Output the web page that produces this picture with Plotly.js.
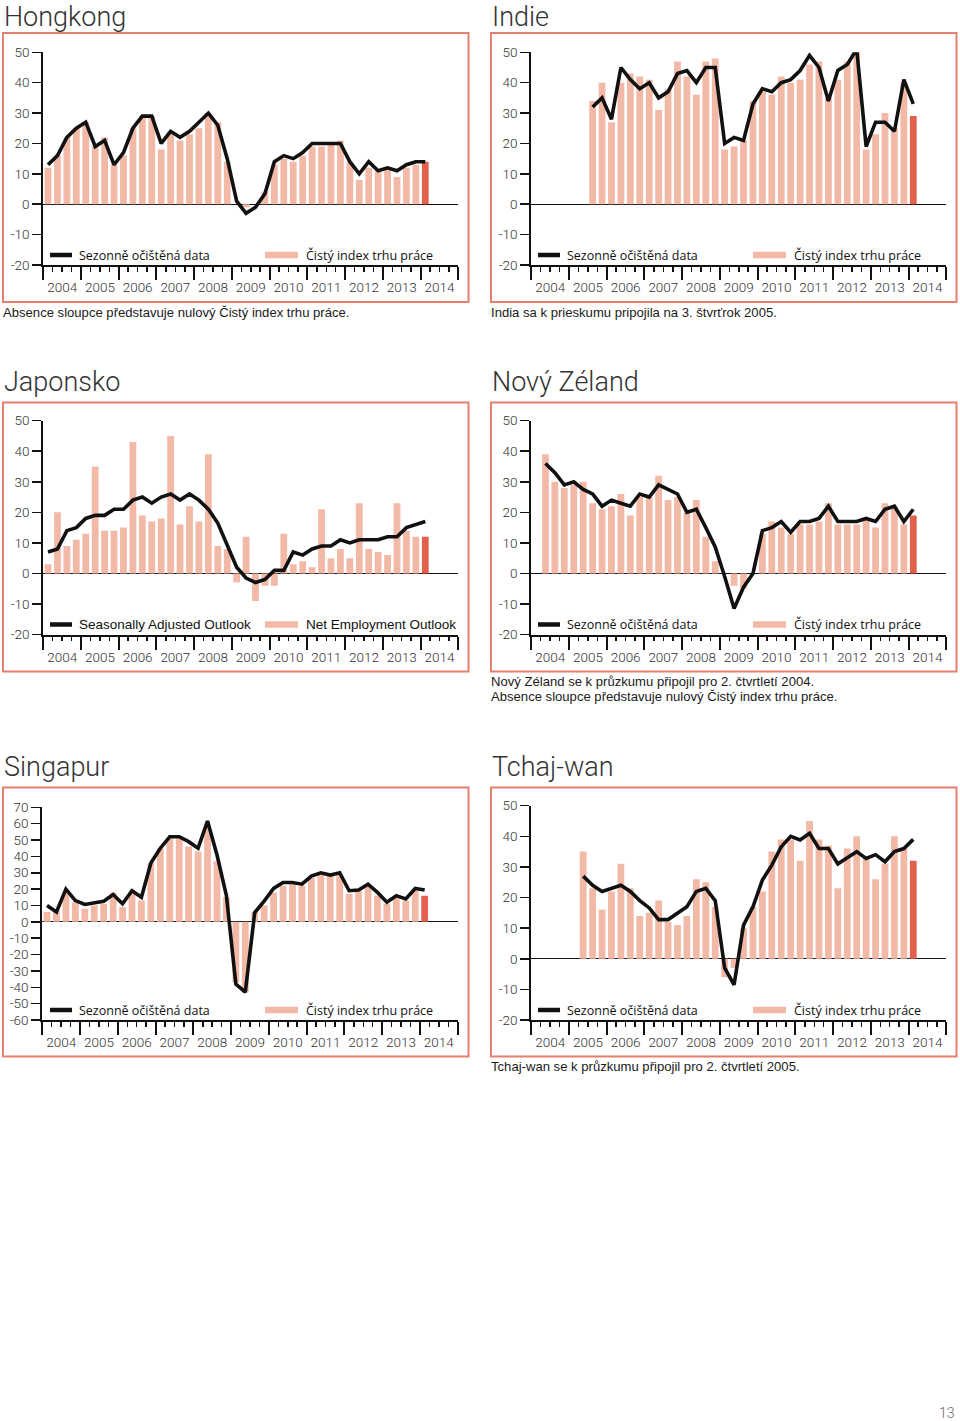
<!DOCTYPE html>
<html>
<head>
<meta charset="utf-8">
<script src="https://cdn.plot.ly/plotly-3.0.1.min.js"></script>
<style>html,body{margin:0;padding:0;background:#fff;}#chart{width:960px;height:1421px;}</style>
</head>
<body>
<div id="chart"></div>
<script>
// ---------- DATA (quarterly, 2004 Q1 ... 2014 Q1) ----------
const years = ['2004','2005','2006','2007','2008','2009','2010','2011','2012','2013','2014'];

const hk_neo = [12,16,22,25,27,19,22,13,16,25,29,29,18,24,21,23,25,30,27,14,0,-1,0,4,13,15,14,16,19,19,20,21,14,8,12,11,12,9,12,13,14];
const hk_sa  = [13,16,22,25,27,19,21,13,17,25,29,29,20,24,22,24,27,30,26,15,1,-3,-1,3.5,14,16,15,17,20,20,20,20,14,10,14,11,12,11,13,14,14];

const in_neo = [null,null,null,null,null,null,34,40,27,40,43,42,41,31,38,47,42,36,47,48,18,19,21,34,37,36,42,40,41,46,47,35,41,47,53,18,23,30,25,40,29];
const in_sa  = [null,null,null,null,null,null,32,35,28,45,41,38,40,35,37,43,44,40,45,45,20,22,21,33,38,37,40,41,44,49,45,34,44,46,51,19,27,27,24,41,33];

const jp_neo = [3,20,9,11,13,35,14,14,15,43,19,17,18,45,16,22,17,39,9,8,-3,12,-9,-4,-4,13,3,4,2,21,5,8,5,23,8,7,6,23,14,12,12];
const jp_sa  = [7,8,14,15,18,19,19,21,21,24,25,23,25,26,24,26,24,21,16.5,9,2,-1.5,-3,-2,1,1,7,6,8,9,9,11,10,11,11,11,12,12,15,16,17];

const nz_neo = [null,39,30,28,29,30,23,21,22,26,19,25,25,32,24,25,20,24,12,4,0,-4,-5,0,13,17,15,13,16,16,17,23,16,16,16,18,15,23,22,16,19];
const nz_sa  = [null,36,33,29,30,27.5,26,22,24,23,22,26,25,29,27.5,26,20,21,15,8.7,-1,-11.5,-4.5,0,14,15,17,13.5,17,17,18,22,17,17,17,18,17,21,22,17,21];

const sg_neo = [6,7,18,12,8,10,11,18,9,17,13,36,45,51,51,46,43,59,37,15,-37,-43,6,10,18,22,24,22,27,29,28,29,17,19,22,16,11,15,13,19,16];
const sg_sa  = [10,6,20,13,10.6,11.6,12.6,16.7,11,19,15,36,45,52,52,49,45,61.6,41,16,-38,-43,5.7,12.7,20.4,24,24,23,28,30,28.6,30,19,19.4,23,18,12,16,14,20.4,19.4];

const tw_neo = [null,null,null,null,null,35,23,16,22,31,23,14,15,19,12,11,14,26,25,17,-6,-3,10,17,22,35,39,39,32,45,39,37,23,36,40,33,26,31,40,36,32];
const tw_sa  = [null,null,null,null,null,27,24,22,23,24,22,19,16.6,12.8,12.8,15,17,22,23,19,-3,-8.5,11,17,25.7,30.6,36.6,40,38.8,41,36,36,31,33,35,32.8,34,31.7,35,36,39];

const legendCZ = ['Sezonně očištěná data','Čistý index trhu práce'];
const legendEN = ['Seasonally Adjusted Outlook','Net Employment Outlook'];

// ---------- LAYOUT HELPERS ----------
const W = 960, H = 1421;
const PX = x => x / W;
const PY = y => 1 - y / H;

const BAR_LIGHT = '#f3b9a7';
const BAR_DARK = '#e2604d';
const BORDER = '#e3806f';
const INK = '#111111';
const TXT = '#333333';

const panels = [
  {title:'Hongkong', neo:hk_neo, sa:hk_sa, leg:legendCZ, col:0, x0:43.3, x1:458.3, yT:52.3, yB:265, range:[-20,50], top:33, bot:302, titleY:0, titleAnchor:'top',
   notes:['Absence sloupce představuje nulový Čistý index trhu práce.'], noteY:312},
  {title:'Indie', neo:in_neo, sa:in_sa, leg:legendCZ, col:1, x0:531.3, x1:946.3, yT:52.3, yB:265, range:[-20,50], top:33, bot:302, titleY:0, titleAnchor:'top',
   notes:['India sa k prieskumu pripojila na 3. štvrťrok 2005.'], noteY:312},
  {title:'Japonsko', neo:jp_neo, sa:jp_sa, leg:legendEN, col:0, x0:43.3, x1:458.3, yT:420.7, yB:634.5, range:[-20,50], top:402.5, bot:671.5, titleY:382, titleAnchor:'middle',
   notes:[], noteY:681},
  {title:'Nový Zéland', neo:nz_neo, sa:nz_sa, leg:legendCZ, col:1, x0:531.3, x1:946.3, yT:420.7, yB:634.5, range:[-20,50], top:402.5, bot:671.5, titleY:382, titleAnchor:'middle',
   notes:['Nový Zéland se k průzkumu připojil pro 2. čtvrtletí 2004.','Absence sloupce představuje nulový Čistý index trhu práce.'], noteY:681},
  {title:'Singapur', neo:sg_neo, sa:sg_sa, leg:legendCZ, col:0, x0:42.3, x1:457.7, yT:807.3, yB:1020, range:[-60,70], top:787.5, bot:1056.5, titleY:767, titleAnchor:'middle',
   notes:[], noteY:1066},
  {title:'Tchaj-wan', neo:tw_neo, sa:tw_sa, leg:legendCZ, col:1, x0:531.3, x1:946.3, yT:805.7, yB:1020, range:[-20,50], top:787.5, bot:1056.5, titleY:767, titleAnchor:'middle',
   notes:['Tchaj-wan se k průzkumu připojil pro 2. čtvrtletí 2005.'], noteY:1066}
];

const tickFont = {family:'Roboto, "Liberation Sans", Arial, sans-serif', size:13.5, color:TXT, weight:300};
const legFontCZ = {family:'"Open Sans", "Noto Sans", sans-serif', size:12.5, color:INK};
const legFontEN = {family:'"Liberation Sans", Arial, sans-serif', size:13.5, color:INK};
const noteFont = {family:'"Liberation Sans", Arial, sans-serif', size:13.1, color:'#1a1a1a'};
const titleFont = {family:'Roboto, "Liberation Sans", sans-serif', size:27, color:TXT, weight:300};

const data = [];
const layout = {
  width: W, height: H,
  margin: {l:0, r:0, t:0, b:0},
  paper_bgcolor: '#ffffff',
  plot_bgcolor: 'rgba(0,0,0,0)',
  showlegend: false,
  bargap: 0.26,
  shapes: [],
  annotations: []
};

panels.forEach((p, k) => {
  const n = k + 1;
  const xa = n === 1 ? 'x' : 'x' + n;
  const ya = n === 1 ? 'y' : 'y' + n;
  const xl = 'x' + (6 + n);
  const idx = p.neo.map((_, i) => i);
  const last = p.neo.length - 1;

  data.push({
    type:'bar', x: idx, y: p.neo, xaxis: xa, yaxis: ya,
    marker:{color: idx.map(i => i === last ? BAR_DARK : BAR_LIGHT), line:{width:0}},
    width: 0.72, hoverinfo:'skip'
  });
  data.push({
    type:'scatter', mode:'lines', x: idx, y: p.sa, xaxis: xa, yaxis: ya,
    line:{color:INK, width:3.6, shape:'linear'}, connectgaps:false, hoverinfo:'skip'
  });
  // empty trace for the year-label axis
  data.push({type:'scatter', mode:'markers', x:[null], y:[null], xaxis: xl, yaxis: ya, hoverinfo:'skip'});

  const xr = [-0.5, 4 * years.length - 0.5];
  const majorVals = [];
  for (let j = 0; j <= years.length; j++) majorVals.push(-0.5 + 4 * j);
  const centers = years.map((_, j) => 1.5 + 4 * j);
  const yVals = [];
  for (let v = p.range[0]; v <= p.range[1]; v += 10) yVals.push(v);

  layout['xaxis' + (n === 1 ? '' : n)] = {
    domain: [PX(p.x0), PX(p.x1)], anchor: ya, range: xr,
    tickmode:'array', tickvals: majorVals, showticklabels:false,
    ticks:'outside', ticklen:13, tickwidth:2, tickcolor:INK,
    showline:true, linecolor:INK, linewidth:2,
    showgrid:false, zeroline:false,
    minor:{tickmode:'linear', tick0:-0.5, dtick:1, ticks:'outside', ticklen:4.5, tickwidth:1.5, tickcolor:INK, showgrid:false},
    fixedrange:true
  };
  layout['xaxis' + (6 + n)] = {
    domain: [PX(p.x0), PX(p.x1)], overlaying: xa, anchor: ya, side:'bottom', range: xr,
    tickmode:'array', tickvals: centers, ticktext: years,
    ticks:'outside', ticklen:10, tickcolor:'rgba(0,0,0,0)',
    showline:false, showgrid:false, zeroline:false, tickfont: tickFont, fixedrange:true
  };
  layout['yaxis' + (n === 1 ? '' : n)] = {
    domain: [PY(p.yB), PY(p.yT)], anchor: xa,
    range: p.range,
    tickmode:'array', tickvals: yVals, ticktext: yVals.map(v => String(v)),
    ticks:'outside', ticklen:9, tickwidth:1.5, tickcolor:INK,
    showline:true, linecolor:INK, linewidth:2,
    showgrid:false, zeroline:true, zerolinecolor:INK, zerolinewidth:1.2,
    tickfont: tickFont, fixedrange:true
  };

  const off = p.col === 0 ? 0 : 488;
  // frame
  layout.shapes.push({type:'rect', xref:'paper', yref:'paper', x0:PX(off + 3), x1:PX(off + 468.5), y0:PY(p.bot), y1:PY(p.top),
    line:{color:BORDER, width:2}, fillcolor:'rgba(0,0,0,0)', layer:'below'});
  // legend samples
  const ly = p.yB - 10;
  layout.shapes.push({type:'line', xref:'paper', yref:'paper', x0:PX(off + 50), x1:PX(off + 72), y0:PY(ly), y1:PY(ly),
    line:{color:INK, width:4.5}});
  layout.shapes.push({type:'rect', xref:'paper', yref:'paper', x0:PX(off + 265), x1:PX(off + 298), y0:PY(ly + 3.2), y1:PY(ly - 3.2),
    line:{width:0}, fillcolor:BAR_LIGHT});
  const lf = p.leg === legendEN ? legFontEN : legFontCZ;
  layout.annotations.push({xref:'paper', yref:'paper', x:PX(off + 77), y:PY(ly), xanchor:'left', yanchor:'middle',
    text:p.leg[0], showarrow:false, font:lf});
  layout.annotations.push({xref:'paper', yref:'paper', x:PX(off + 304), y:PY(ly), xanchor:'left', yanchor:'middle',
    text:p.leg[1], showarrow:false, font:lf});
  // title
  layout.annotations.push({xref:'paper', yref:'paper', x:PX(off + 3), y:PY(p.titleY), xanchor:'left', yanchor:p.titleAnchor,
    text:p.title, showarrow:false, font:titleFont, borderpad:0});
  // notes
  p.notes.forEach((t, j) => {
    layout.annotations.push({xref:'paper', yref:'paper', x:PX(off + 1), y:PY(p.noteY + j * 16), xanchor:'left', yanchor:'middle',
      text:t, showarrow:false, font:noteFont});
  });
});

layout.annotations.push({xref:'paper', yref:'paper', x:PX(957), y:PY(1413), xanchor:'right', yanchor:'middle',
  text:'13', showarrow:false, font:{family:'Roboto, sans-serif', size:14, color:'#666', weight:300}});

Plotly.newPlot('chart', data, layout, {staticPlot:true, displayModeBar:false});
</script>
</body>
</html>
